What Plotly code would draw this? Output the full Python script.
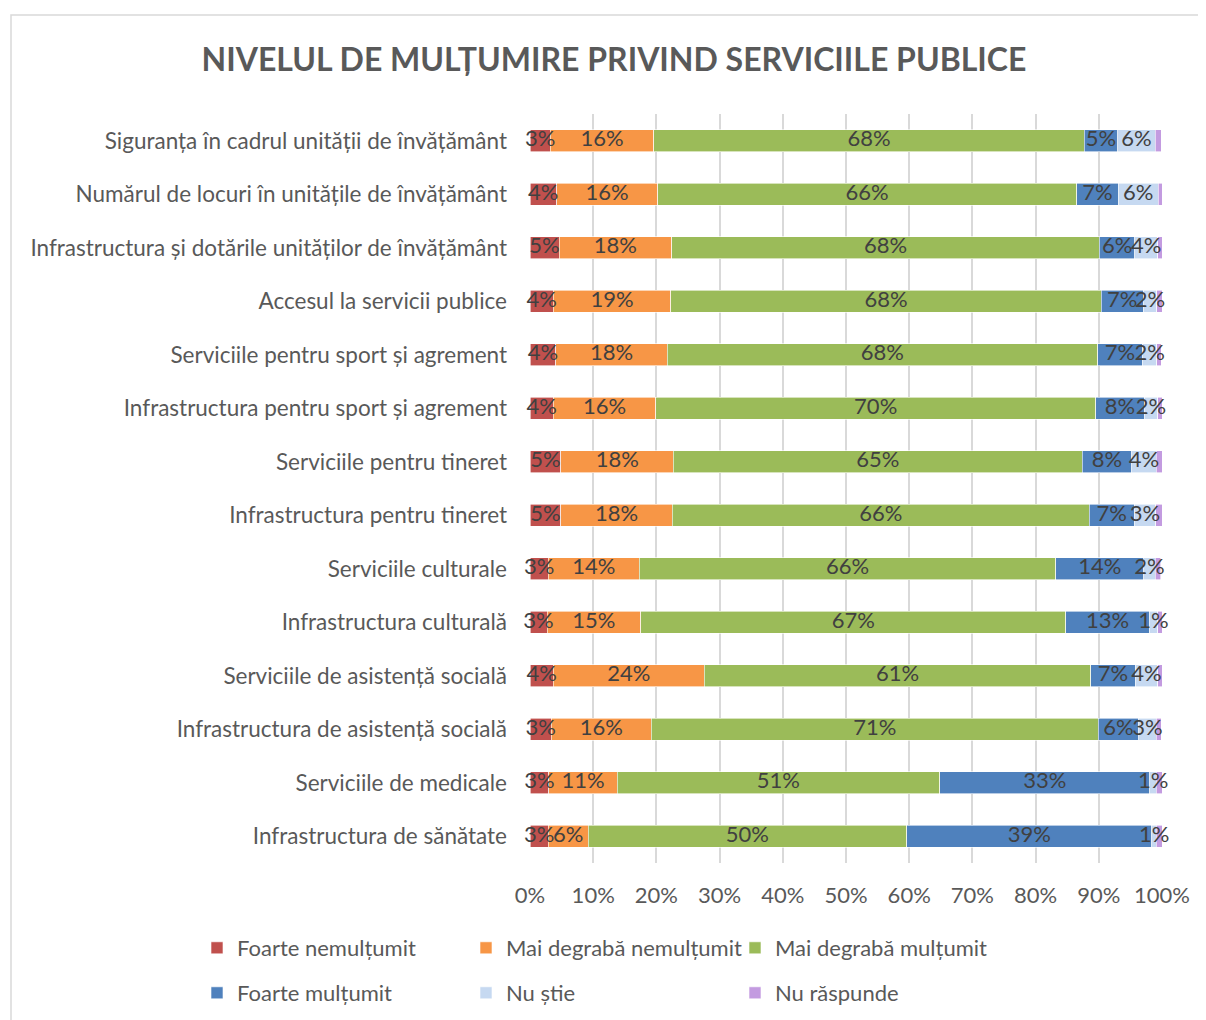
import plotly.graph_objects as go

categories = [
    "Siguranța în cadrul unității de învățământ",
    "Numărul de locuri în unitățile de învățământ",
    "Infrastructura și dotările unităților de învățământ",
    "Accesul la servicii publice",
    "Serviciile pentru sport și agrement",
    "Infrastructura pentru sport și agrement",
    "Serviciile pentru tineret",
    "Infrastructura pentru tineret",
    "Serviciile culturale",
    "Infrastructura culturală",
    "Serviciile de asistență socială",
    "Infrastructura de asistență socială",
    "Serviciile de medicale",
    "Infrastructura de sănătate",
]

# shares in percent, one list per answer, same order as categories
foarte_nemultumit = [3.2, 4.2, 4.6, 3.7, 4.1, 3.7, 4.9, 4.9, 2.9, 2.7, 3.7, 3.4, 3.0, 2.9]
mai_degraba_nemultumit = [16.4, 16.0, 17.8, 18.6, 17.6, 16.2, 17.8, 17.6, 14.4, 14.8, 23.9, 15.8, 10.8, 6.3]
mai_degraba_multumit = [68.1, 66.3, 67.7, 68.1, 68.1, 69.6, 64.7, 66.0, 65.9, 67.3, 61.1, 70.7, 51.0, 50.4]
foarte_multumit = [5.3, 6.6, 5.6, 6.6, 7.1, 7.7, 7.8, 7.1, 13.9, 13.2, 7.1, 6.4, 33.3, 38.8]
nu_stie = [5.9, 6.3, 3.6, 2.2, 2.3, 2.1, 3.9, 3.4, 1.8, 1.3, 3.5, 2.8, 1.0, 0.7]
nu_raspunde = [1.0, 0.7, 0.9, 0.9, 0.7, 0.8, 0.9, 1.1, 0.9, 0.7, 0.8, 0.8, 1.0, 0.9]

series = [
    ("Foarte nemulțumit", foarte_nemultumit, "#C0504D", "legend"),
    ("Mai degrabă nemulțumit", mai_degraba_nemultumit, "#F79646", "legend"),
    ("Mai degrabă mulțumit", mai_degraba_multumit, "#9BBB59", "legend"),
    ("Foarte mulțumit", foarte_multumit, "#4F81BD", "legend2"),
    ("Nu știe", nu_stie, "#C6D9F1", "legend2"),
    ("Nu răspunde", nu_raspunde, "#C39BE0", "legend2"),
]

FONT = "Lato"
fig = go.Figure()
for name, vals, color, leg in series:
    fig.add_trace(go.Bar(
        y=categories,
        x=[v / 100 for v in vals],
        name=name,
        orientation="h",
        marker=dict(color=color, line=dict(color="white", width=0.6)),
        textposition="none",
        legend=leg,
    ))

# data labels drawn above all bars, centred on each segment
base = [0.0] * len(categories)
for name, vals, color, leg in series:
    mids = [b + v / 200 for b, v in zip(base, vals)]
    base = [b + v / 100 for b, v in zip(base, vals)]
    if name == "Nu răspunde":
        continue
    fig.add_trace(go.Scatter(
        x=mids,
        y=categories,
        mode="text",
        text=[f"{round(v)}%" for v in vals],
        textposition="middle center",
        textfont=dict(family=FONT, size=22, color="#404040"),
        showlegend=False,
        hoverinfo="skip",
        cliponaxis=False,
    ))

# page is drawn 8px in from the window corner
OFF = 8
W, H = 1206 - OFF, 1020 - OFF
L, R, T, B = 522, 44, 106, 157
pw, ph = W - L - R, H - T - B

def px(x):
    return (x - OFF - L) / pw

def py(y):
    return (H - B - (y - OFF)) / ph

legend_style = dict(
    orientation="h",
    xanchor="left",
    yanchor="middle",
    x=px(197),
    entrywidth=224,
    font=dict(family=FONT, size=22, color="#595959"),
    bgcolor="rgba(0,0,0,0)",
    traceorder="normal",
)

fig.update_layout(
    width=W,
    height=H,
    barmode="stack",
    bargap=0.59,
    plot_bgcolor="white",
    paper_bgcolor="white",
    margin=dict(l=L, r=R, t=T, b=B, autoexpand=False),
    title=dict(
        text="<b>NIVELUL DE MULȚUMIRE PRIVIND SERVICIILE PUBLICE</b>",
        x=px(614), xanchor="center", xref="paper",
        y=1 - (60 - OFF) / H, yanchor="middle",
        font=dict(family=FONT, size=32, color="#595959"),
    ),
    xaxis=dict(
        range=[0, 1],
        tickformat=".0%",
        dtick=0.1,
        showgrid=True,
        gridcolor="#D9D9D9",
        gridwidth=1.5,
        zeroline=False,
        showline=False,
        ticks="",
        ticklabelstandoff=17,
        automargin=False,
        tickfont=dict(family=FONT, size=22, color="#595959"),
    ),
    yaxis=dict(
        range=[len(categories) - 0.5, -0.5],
        showgrid=False,
        ticks="",
        ticklabelstandoff=22,
        automargin=False,
        tickfont=dict(family=FONT, size=22.5, color="#595959"),
    ),
    legend=dict(legend_style, y=py(948)),
    legend2=dict(legend_style, y=py(993)),
    shapes=[dict(
        type="rect", xref="paper", yref="paper",
        x0=px(11), x1=px(1220), y0=py(1030), y1=py(15),
        line=dict(color="#D9D9D9", width=1.5),
        layer="below",
    )],
)

fig.write_html("out.html")
